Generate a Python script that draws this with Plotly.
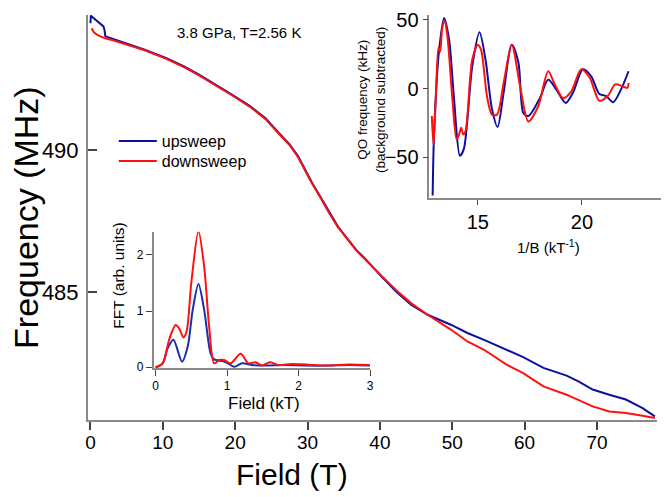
import plotly.graph_objects as go

# ---------------- data ----------------
up_field = [0, 0.05, 0.3, 1.0, 1.8, 1.95, 2.05, 2.3, 3.5, 5.9, 7.5, 10.5, 13, 15, 17.5, 19.6,
            22, 24.2, 26, 27.5, 28.7, 30, 30.6, 31.9, 33, 34.2, 36.7, 37.9, 40.2, 42.3, 44.3,
            46.6, 49.8, 52.1, 54.4, 57.5, 59.8, 62.6, 65.8, 67.5, 69.4, 71.7, 74.0, 76.3, 78.0]
up_freq = [494.45, 494.72, 494.66, 494.52, 494.34, 494.2, 494.0, 493.97, 493.87, 493.66, 493.52,
           493.22, 492.92, 492.64, 492.27, 491.93, 491.55, 491.11, 490.6, 490.2, 489.77, 489.14,
           488.85, 488.3, 487.8, 487.3, 486.49, 486.19, 485.55, 485.0, 484.55, 484.2, 483.85,
           483.56, 483.32, 482.97, 482.71, 482.33, 482.06, 481.85, 481.57, 481.39, 481.22,
           480.92, 480.63]

dn_field = [0.15, 0.5, 1.0, 1.5, 2.0, 3.0, 3.8, 5.9, 7.5, 10.5, 13, 15, 17.5, 19.6, 22, 24.2,
            26, 27.5, 28.7, 30, 30.6, 31.9, 33, 34.2, 36.7, 40.2, 42.3, 44.3, 46.6, 49.8, 52.1,
            54.4, 57.5, 59.8, 62.6, 65.8, 69.4, 71.7, 74.0, 76.3, 78.0]
dn_freq = [494.27, 494.12, 494.03, 493.97, 493.92, 493.86, 493.8, 493.64, 493.5, 493.2, 492.9,
           492.62, 492.25, 491.91, 491.52, 491.08, 490.57, 490.17, 489.74, 489.11, 488.82,
           488.27, 487.77, 487.28, 486.47, 485.57, 485.05, 484.61, 484.2, 483.68, 483.26,
           482.97, 482.45, 482.15, 481.68, 481.39, 480.98, 480.80, 480.75, 480.65, 480.57]

# FFT inset
fft_freq_kT = [0.0, 0.1, 0.17, 0.25, 0.37, 0.45, 0.52, 0.6, 0.68, 0.77, 0.82, 0.94, 1.0, 1.1,
               1.21, 1.35, 1.54, 1.8, 2.1, 2.4, 2.7, 3.0]
fft_up = [0.0, 0.07, 0.34, 0.49, 0.1, 0.37, 1.02, 1.48, 1.02, 0.25, 0.14, 0.11, 0.08, 0.01,
          0.07, 0.04, 0.03, 0.04, 0.03, 0.03, 0.04, 0.03]
fft_freq_kT_dn = [0.0, 0.1, 0.19, 0.28, 0.33, 0.39, 0.435, 0.5, 0.6, 0.68, 0.75, 0.82, 0.89,
                  0.96, 1.05, 1.19, 1.3, 1.4, 1.49, 1.6, 1.72, 1.9, 2.1, 2.4, 2.7, 3.0]
fft_dn = [0.0, 0.07, 0.49, 0.75, 0.69, 0.53, 0.64, 1.5, 2.42, 1.79, 0.72, 0.07, 0.13, 0.13,
          0.07, 0.24, 0.07, 0.09, 0.03, 0.09, 0.04, 0.06, 0.05, 0.03, 0.05, 0.04]

# QO inset
qo_invB_up = [12.83, 12.9, 13.14, 13.38, 13.62, 13.86, 14.14, 14.33, 14.73, 15.08, 15.37, 15.68,
              15.95, 16.24, 16.63, 16.95, 17.19, 17.43, 17.98, 18.38, 18.78, 19.22, 19.57,
              20.05, 20.44, 20.84, 21.16, 21.5, 21.87, 22.24]
qo_up = [-78, -32, 28, 51.5, 35.7, -8, -49, -44, 16, 41, 21, -15, -28, -3, 32, 19, -18, -20,
         -7, 6.5, -1, -10.5, -3, 14, 9, -4, -5.5, -10, -1, 12.6]
qo_invB_dn = [12.79, 12.87, 12.98, 13.11, 13.19, 13.3, 13.41, 13.54, 13.78, 13.98, 14.1, 14.2,
              14.3, 14.41, 14.73, 15.0, 15.16, 15.44, 15.68, 15.92, 16.24, 16.63, 17.03,
              17.43, 17.9, 18.38, 18.7, 19.1, 19.49, 19.97, 20.37, 20.84, 21.24, 21.6, 21.95,
              22.19, 22.24]
qo_dn = [-20, -41, -8, 30, 27, 45, 49, 38, -8, -37, -33.5, -28.6, -33.5, -31, 21, 32, 28,
         -5.6, -19, -19, 4, 32, 1.7, -24, -13, 12.6, 3, -7, -2, 14, 8, -9, -5.5, 3, 1.7, 0.5, 4]

main_xticks = [0, 10, 20, 30, 40, 50, 60, 70]

BLUE = "#0f0f9c"
RED = "#ff1010"
AXC = "#8a8a8a"
F = "Liberation Sans, Arial, sans-serif"

fig = go.Figure()

# main traces
fig.add_trace(go.Scatter(x=up_field, y=up_freq, mode="lines", name="upsweep", legend="legend",
                         line=dict(color=BLUE, width=2), xaxis="x", yaxis="y"))
fig.add_trace(go.Scatter(x=dn_field, y=dn_freq, mode="lines", name="downsweep", legend="legend2",
                         line=dict(color=RED, width=2), xaxis="x", yaxis="y"))

# FFT inset
fig.add_trace(go.Scatter(x=fft_freq_kT, y=fft_up, mode="lines", showlegend=False,
                         line=dict(color="#1a30a8", width=2, shape="spline", smoothing=0.8),
                         xaxis="x2", yaxis="y2"))
fig.add_trace(go.Scatter(x=fft_freq_kT_dn, y=fft_dn, mode="lines", showlegend=False,
                         line=dict(color=RED, width=2, shape="spline", smoothing=0.8),
                         xaxis="x2", yaxis="y2"))

# QO inset
fig.add_trace(go.Scatter(x=qo_invB_up, y=qo_up, mode="lines", showlegend=False,
                         line=dict(color=BLUE, width=2, shape="spline", smoothing=0.8),
                         xaxis="x3", yaxis="y3"))
fig.add_trace(go.Scatter(x=qo_invB_dn, y=qo_dn, mode="lines", showlegend=False,
                         line=dict(color=RED, width=2, shape="spline", smoothing=0.8),
                         xaxis="x3", yaxis="y3"))

L, R, T, B = 88, 1, 15, 77
W, H = 666, 497
PW, PH = W - L - R, H - T - B


def px(xp):
    return (xp - L) / PW


def py(yp):
    return (H - B - yp) / PH


leg_common = dict(xanchor="left", yanchor="top", font=dict(size=16, family=F),
                  bgcolor="rgba(0,0,0,0)", itemwidth=38)

fig.update_layout(
    width=W, height=H,
    margin=dict(l=L, r=R, t=T, b=B),
    paper_bgcolor="white", plot_bgcolor="rgba(0,0,0,0)",
    font=dict(family=F, color="black"),
    showlegend=True,
    legend=dict(x=px(114), y=py(124), **leg_common),
    legend2=dict(x=px(114), y=py(144), **leg_common),
    xaxis=dict(domain=[0, px(661)], range=[-0.34, 78.3], tickvals=main_xticks,
               showline=True, linecolor=AXC, linewidth=2, mirror=False,
               ticks="outside", ticklen=8, tickwidth=1.5, tickcolor="#444",
               tickfont=dict(size=19, family=F), ticklabelstandoff=-4,
               showgrid=False, zeroline=False, anchor="y"),
    yaxis=dict(domain=[0, 1], range=[480.5, 494.74], dtick=5, tick0=480,
               showline=True, linecolor=AXC, linewidth=2,
               ticks="inside", ticklen=9, tickwidth=1.5, tickcolor="#444",
               tickfont=dict(size=22, family=F), ticklabelstandoff=3,
               showgrid=False, zeroline=False, anchor="x"),
    xaxis2=dict(domain=[px(154), px(372)], range=[-0.028, 3.0], tickvals=[0, 1, 2, 3],
                showline=True, linecolor=AXC, linewidth=1.5,
                ticks="outside", ticklen=6, tickwidth=1, tickcolor="#444",
                tickfont=dict(size=12, family=F), showgrid=False, zeroline=False,
                anchor="y2"),
    yaxis2=dict(domain=[py(368.3), py(231.7)], range=[-0.018, 2.41], tickvals=[0, 1, 2],
                showline=True, linecolor=AXC, linewidth=1.5,
                ticks="outside", ticklen=6, tickwidth=1, tickcolor="#444",
                tickfont=dict(size=12, family=F), showgrid=False, zeroline=False,
                anchor="x2"),
    xaxis3=dict(domain=[px(431.7), 1.0], range=[12.67, 23.8], tickvals=[15, 20],
                showline=True, linecolor=AXC, linewidth=1.5,
                ticks="outside", ticklen=5, tickwidth=1, tickcolor="#444",
                tickfont=dict(size=20, family=F), showgrid=False, zeroline=False,
                anchor="y3"),
    yaxis3=dict(domain=[py(198.3), 1.0], range=[-80, 53.6], tickvals=[-50, 0, 50],
                showline=True, linecolor=AXC, linewidth=1.5,
                ticks="outside", ticklen=5, tickwidth=1, tickcolor="#444",
                tickfont=dict(size=20, family=F), showgrid=False, zeroline=False,
                anchor="x3"),
)

ann = [
    dict(text="Field (T)", x=px(293.5), y=py(474), font=dict(size=30, family=F)),
    dict(text="Frequency (MHz)", x=px(25), y=py(217.5), textangle=-90,
         font=dict(size=34, family=F)),
    dict(text="3.8 GPa, T=2.56 K", x=px(240), y=py(33), font=dict(size=15, family=F)),
    dict(text="QO frequency (kHz)<br>(background subtracted)", x=px(373), y=py(100),
         textangle=-90, font=dict(size=13.5, family=F)),
    dict(text="1/B (kT<sup>-1</sup>)", x=px(552), y=py(246), font=dict(size=15, family=F)),
    dict(text="FFT (arb. units)", x=px(118), y=py(275), textangle=-90,
         font=dict(size=15.5, family=F)),
    dict(text="Field (kT)", x=px(265), y=py(403), font=dict(size=17, family=F)),
]
for a in ann:
    a.update(xref="paper", yref="paper", showarrow=False, xanchor="center", yanchor="middle")
fig.update_layout(annotations=ann)

fig.write_html("out.html")
